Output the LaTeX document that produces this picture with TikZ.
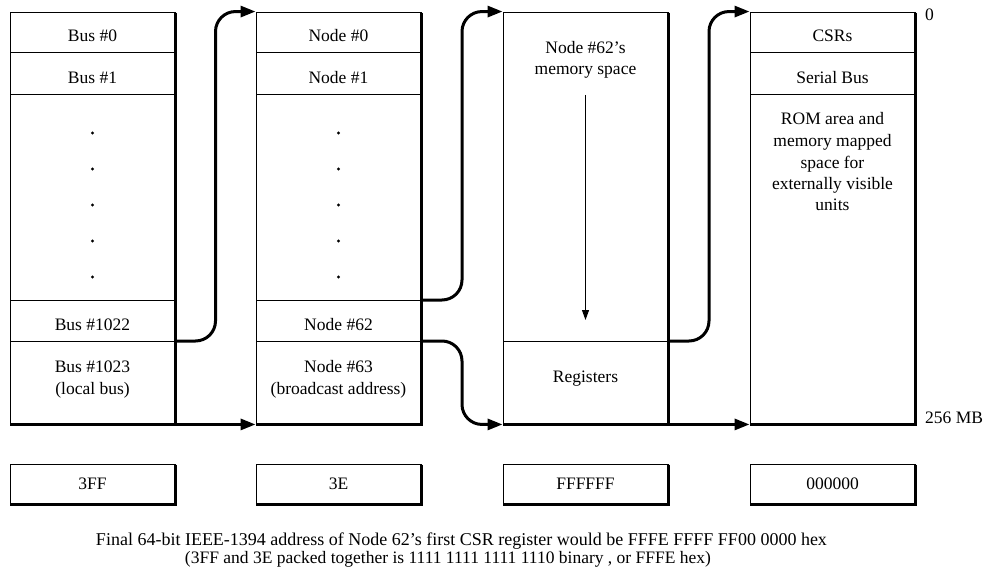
\documentclass[tikz,border=0pt]{standalone}
\usepackage{fontspec}
\setmainfont{Liberation Serif}
\usetikzlibrary{arrows.meta,calc}

\begin{document}
\begin{tikzpicture}[x=1pt,y=-1pt,
  every node/.style={font=\fontsize{17.5}{21.5}\selectfont, inner sep=0pt},
  colbox/.style={draw, line width=0.9pt, minimum width=165pt, minimum height=412pt},
  valbox/.style={draw, line width=0.9pt, minimum width=165pt, minimum height=40pt},
  shade/.style={line width=3pt},
  divider/.style={line width=0.9pt},
  lbl/.style={anchor=base, align=center},
  conn/.style={line width=3pt, rounded corners=20pt,
    -{Triangle[length=15pt,width=11pt]}},
  inner/.style={line width=1pt, -{Triangle[length=10pt,width=7pt]}},
  dot/.style={fill=black}]

\useasboundingbox (0,0) rectangle (986,575);

% the four address columns
\node[colbox] (c1) at (92.5,218) {};
\node[colbox] (c2) at (338.5,218) {};
\node[colbox] (c3) at (585.5,218) {};
\node[colbox] (c4) at (832.5,218) {};
\foreach \c in {c1,c2,c3,c4}
  \draw[shade] ([yshift=-1pt]\c.north east) -- (\c.south east) -- (\c.south west);

% row borders
\foreach \y in {52,94,300,341} \draw[divider] (10,\y) -- (175,\y);
\foreach \y in {52,94,300,341} \draw[divider] (256,\y) -- (421,\y);
\draw[divider] (503,341) -- (668,341);
\foreach \y in {52,94} \draw[divider] (750,\y) -- (915,\y);

% column 1: buses (multi-line labels sit on their last baseline)
\node[lbl] (bus0) at (92.5,42) {Bus \#0};
\node[lbl] (bus1) at (92.5,84) {Bus \#1};
\node[lbl] (bus1022) at (92.5,330) {Bus \#1022};
\node[lbl] (bus1023) at (92.5,394) {Bus \#1023\\(local bus)};

% column 2: nodes
\node[lbl] (node0) at (338.5,42) {Node \#0};
\node[lbl] (node1) at (338.5,84) {Node \#1};
\node[lbl] (node62) at (338.5,330) {Node \#62};
\node[lbl] (node63) at (338.5,394) {Node \#63\\(broadcast address)};

% ellipsis dots
\foreach \y in {133,169,205,241,277} {
  \fill[dot] (92.5,\y) circle (1.6pt);
  \fill[dot] (338.5,\y) circle (1.6pt);
}

% column 3: node memory space
\node[lbl] (mem) at (585.5,75) {Node \#62’s\\memory space};
\node[lbl] (regs) at (585.5,382) {Registers};
\draw[inner] (585.5,95) -- (585.5,320);

% column 4: register space
\node[lbl] (csrs) at (832.5,42) {CSRs};
\node[lbl] (sbus) at (832.5,84) {Serial Bus};
\node[lbl] (rom) at (832.5,211) {ROM area and\\memory mapped\\space for\\externally visible\\units};

% address bounds
\node[anchor=base west] (top) at (925,21) {0};
\node[anchor=base west] (size) at (925,423) {256 MB};

% connector end points on row borders
\coordinate (c1-out) at (175,341);
\coordinate (c2-up) at (421,300);
\coordinate (c2-down) at (421,341);
\coordinate (c3-out) at (668,341);
\coordinate (m1) at ($(c1.north east)!0.5!(c2.north west)$);
\coordinate (m2) at ($(c2.north east)!0.5!(c3.north west)$);
\coordinate (m3) at ($(c2.south east)!0.5!(c3.south west)$);
\coordinate (m4) at ($(c3.north east)!0.5!(c4.north west)$);

\draw[conn] (c1-out) -| (m1) -- (c2.north west);
\draw[conn] (c2-up) -| (m2) -- (c3.north west);
\draw[conn] (c2-down) -| (m3) -- (c3.south west);
\draw[conn] (c3-out) -| (m4) -- (c4.north west);
\draw[conn] (c1.south east) -- (c2.south west);
\draw[conn] (c3.south east) -- (c4.south west);

% field values
\node[valbox] (v1) at (92.5,484) {3FF};
\node[valbox] (v2) at (338.5,484) {3E};
\node[valbox] (v3) at (585.5,484) {FFFFFF};
\node[valbox] (v4) at (832.5,484) {000000};
\foreach \v in {v1,v2,v3,v4}
  \draw[shade] ([yshift=-1pt]\v.north east) -- (\v.south east) -- (\v.south west);

% caption
\node[anchor=base, font=\fontsize{18}{21.5}\selectfont] (cap1) at (461.5,545) {Final 64-bit IEEE-1394 address of Node 62’s first CSR register would be FFFE FFFF FF00 0000 hex};
\node[anchor=base] (cap2) at (448,563) {(3FF and 3E packed together is 1111 1111 1111 1110 binary , or FFFE hex)};
\end{tikzpicture}
\end{document}
